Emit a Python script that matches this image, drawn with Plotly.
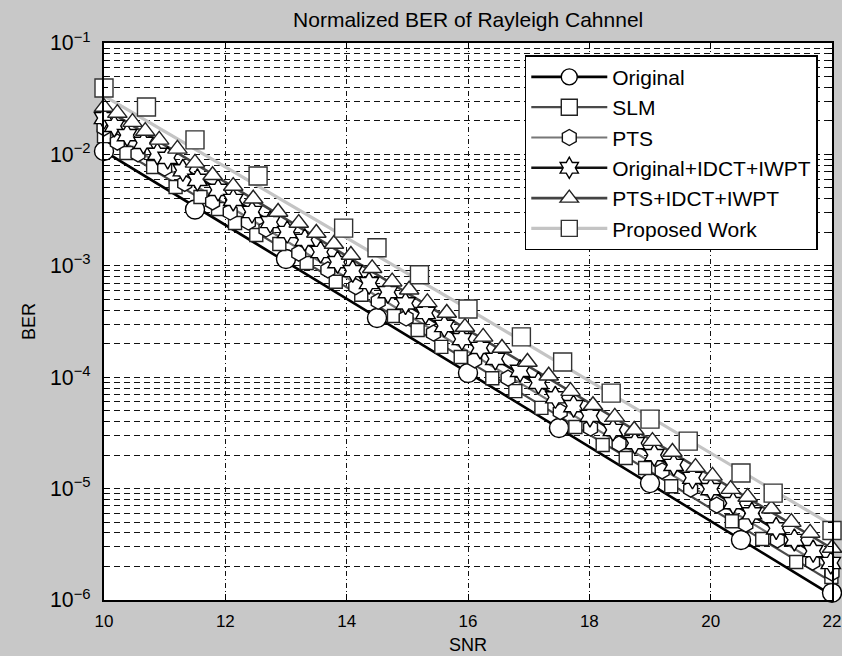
import plotly.graph_objects as go

# ---------------- data ----------------
series_names = ["Original", "SLM", "PTS", "Original+IDCT+IWPT", "PTS+IDCT+IWPT", "Proposed Work"]

# straight reference lines of each series
line_snr = [10, 16, 22]
line_original = [1.07e-2, 1.10e-4, 1.10e-6]
line_slm = [1.35e-2, 1.40e-4, 1.45e-6]
line_pts = [1.65e-2, 1.70e-4, 1.80e-6]
line_oiw = [2.05e-2, 2.05e-4, 2.10e-6]
line_piw = [2.60e-2, 2.65e-4, 2.90e-6]
line_prop = [3.35e-2, 4.10e-4, 4.70e-6]

# marker points
snr_original = [10, 11.5, 13, 14.5, 16, 17.5, 19, 20.5, 22]
ber_original = [1.07e-2, 3.2e-3, 1.15e-3, 3.4e-4, 1.09e-4, 3.5e-5, 1.12e-5, 3.46e-6, 1.16e-6]

snr_slm = [10.0, 10.37, 10.81, 11.18, 11.59, 11.88, 12.16, 12.51, 12.89, 13.34, 13.82, 14.24, 14.78, 15.17,
           15.56, 15.88, 16.40, 16.78, 17.21, 17.77, 18.22, 18.60, 18.92, 19.35, 20.35, 20.85, 21.41, 21.99]
ber_slm = [1.46e-2, 1.03e-2, 7.7e-3, 5.1e-3, 4.15e-3, 3.24e-3, 2.42e-3, 1.89e-3, 1.57e-3, 1.06e-3, 7.2e-4,
           5.5e-4, 3.54e-4, 2.65e-4, 1.87e-4, 1.52e-4, 9.8e-5, 7.5e-5, 5.3e-5, 3.57e-5, 2.46e-5, 1.88e-5,
           1.53e-5, 1.05e-5, 5.1e-6, 3.53e-6, 2.19e-6, 1.61e-6]

snr_pts = [10.0, 10.22, 10.56, 11.00, 11.33, 11.79, 12.08, 12.38, 12.67, 13.21, 13.69, 14.15, 14.52, 14.98,
           15.43, 16.11, 16.66, 17.52, 18.02, 18.49, 19.20, 19.67, 20.10, 20.58, 21.10, 21.68, 22.0]
ber_pts = [1.73e-2, 1.29e-2, 1.01e-2, 7.55e-3, 5.5e-3, 3.74e-3, 3.04e-3, 2.47e-3, 2.14e-3, 1.30e-3, 9.2e-4,
           6.5e-4, 4.8e-4, 3.4e-4, 2.49e-4, 1.43e-4, 9.8e-5, 4.9e-5, 3.5e-5, 2.52e-5, 1.44e-5, 9.9e-6,
           7.1e-6, 4.8e-6, 3.46e-6, 2.19e-6, 1.75e-6]

snr_oiw = [10.0, 10.17, 10.38, 10.65, 10.88, 11.05, 11.30, 11.54, 11.88, 12.13, 12.44, 12.74, 13.02, 13.31,
           13.57, 13.85, 14.10, 14.37, 14.68, 14.97, 15.30, 15.61, 15.90, 16.20, 16.45, 16.86, 17.16, 17.44,
           17.74, 18.01, 18.39, 18.75, 19.07, 19.39, 19.70, 20.00, 20.37, 20.68, 21.08, 21.38, 21.69, 21.98]
ber_oiw = [2.12e-2, 1.80e-2, 1.49e-2, 1.27e-2, 1.01e-2, 9.3e-3, 7.2e-3, 5.9e-3, 4.8e-3, 3.9e-3, 3.04e-3,
           2.47e-3, 2.01e-3, 1.71e-3, 1.33e-3, 1.08e-3, 8.97e-4, 7.0e-4, 5.8e-4, 4.6e-4, 3.77e-4, 2.88e-4,
           2.20e-4, 1.83e-4, 1.46e-4, 1.14e-4, 8.9e-5, 6.6e-5, 5.5e-5, 4.5e-5, 3.36e-5, 2.56e-5, 2.00e-5,
           1.63e-5, 1.25e-5, 9.9e-6, 7.4e-6, 6.0e-6, 4.4e-6, 3.46e-6, 2.75e-6, 2.15e-6]

snr_piw = [10.0, 10.22, 10.47, 10.68, 10.91, 11.21, 11.50, 11.79, 12.13, 12.46, 12.87, 13.21, 13.50, 13.79,
           14.07, 14.42, 14.75, 15.03, 15.33, 15.65, 15.95, 16.25, 16.56, 16.98, 17.33, 17.69, 18.06, 18.42,
           18.74, 19.04, 19.37, 19.75, 20.03, 20.33, 20.61, 21.00, 21.33, 21.64, 22.0]
ber_piw = [2.66e-2, 2.35e-2, 1.95e-2, 1.62e-2, 1.35e-2, 1.12e-2, 8.4e-3, 6.5e-3, 5.2e-3, 4.0e-3, 3.04e-3,
           2.42e-3, 1.97e-3, 1.57e-3, 1.25e-3, 9.5e-4, 7.2e-4, 6.1e-4, 4.7e-4, 3.77e-4, 2.82e-4, 2.30e-4,
           1.83e-4, 1.37e-4, 1.03e-4, 7.5e-5, 5.6e-5, 4.4e-5, 3.36e-5, 2.67e-5, 2.13e-5, 1.56e-5, 1.30e-5,
           9.9e-6, 8.4e-6, 6.6e-6, 5.0e-6, 4.0e-6, 2.93e-6]

snr_prop = [10.0, 10.70, 11.50, 12.54, 13.95, 14.50, 15.20, 16.00, 16.88, 17.56, 18.36, 19.00, 19.63, 20.50,
            21.03, 22.0]
ber_prop = [3.94e-2, 2.66e-2, 1.35e-2, 6.4e-3, 2.18e-3, 1.45e-3, 8.3e-4, 4.1e-4, 2.30e-4, 1.37e-4, 7.2e-5,
            4.2e-5, 2.67e-5, 1.38e-5, 9.1e-6, 4.2e-6]

x_ticks = [10, 12, 14, 16, 18, 20, 22]

# ---------------- styling ----------------
FONT = "Liberation Sans, Arial, sans-serif"
PAPER = "#c8c8c8"
line_colors = ["#000000", "#4a4a4a", "#777777", "#111111", "#444444", "#c4c4c4"]
line_widths = [2.6, 2.2, 2.2, 2.6, 2.6, 3.2]
edge_colors = ["#000000", "#222222", "#111111", "#000000", "#222222", "#333333"]
symbols = ["circle", "square", "hexagon", "hexagram", "triangle-up", "square"]
sizes = [19, 13, 16, 17, 17, 18]

lines = [line_original, line_slm, line_pts, line_oiw, line_piw, line_prop]
pts = [(snr_original, ber_original), (snr_slm, ber_slm), (snr_pts, ber_pts),
       (snr_oiw, ber_oiw), (snr_piw, ber_piw), (snr_prop, ber_prop)]

fig = go.Figure()

# lines
for i, ly in enumerate(lines):
    fig.add_trace(go.Scatter(x=line_snr, y=ly, mode="lines", showlegend=False, hoverinfo="skip",
                             line=dict(color=line_colors[i], width=line_widths[i])))

# markers
for i, (sx, sy) in enumerate(pts):
    fig.add_trace(go.Scatter(x=sx, y=sy, mode="markers", showlegend=False, cliponaxis=False,
                             marker=dict(symbol=symbols[i], size=sizes[i], color="white",
                                         line=dict(color=edge_colors[i], width=1.4))))

# legend entries
for i, name in enumerate(series_names):
    fig.add_trace(go.Scatter(x=[None], y=[None], mode="lines+markers", name=name,
                             line=dict(color=line_colors[i], width=line_widths[i]),
                             marker=dict(symbol=symbols[i], size=16, color="white",
                                         line=dict(color=edge_colors[i], width=1.4))))

axis_common = dict(showline=True, linecolor="black", linewidth=2, mirror="allticks",
                   ticks="inside", tickcolor="black", zeroline=False, automargin=False,
                   tickfont=dict(family=FONT, size=17, color="black"),
                   showgrid=True, gridcolor="#111111", gridwidth=1.2)

fig.update_layout(
    width=842, height=656,
    paper_bgcolor=PAPER, plot_bgcolor="white",
    margin=dict(l=104, r=10, t=43, b=56),
    title=dict(text="Normalized BER of Rayleigh Cahnnel", x=0.556, xanchor="center", y=0.97,
               yanchor="middle", font=dict(family=FONT, size=21, color="black"), automargin=False),
    xaxis=dict(range=[10, 22], tickvals=x_ticks, griddash="5px,3px,1px,3px", ticklen=6,
               ticklabeloverflow="allow", ticklabelstandoff=5,
               title=dict(text="SNR", font=dict(family=FONT, size=18, color="black"), standoff=8),
               **axis_common),
    yaxis=dict(type="log", range=[-6, -1], dtick=1, exponentformat="power", showexponent="all",
               griddash="6px,4px", ticklen=6, ticklabelstandoff=8,
               minor=dict(dtick="D1", showgrid=True, gridcolor="#111111", griddash="6px,4px",
                          gridwidth=1.2, ticks="inside", ticklen=4, tickcolor="black"),
               title=dict(text="BER", font=dict(family=FONT, size=18, color="black"), standoff=10),
               **axis_common),
    legend=dict(x=0.578, y=0.978, xanchor="left", yanchor="top", bgcolor="white",
                bordercolor="black", borderwidth=1.5, itemwidth=76,
                font=dict(family=FONT, size=21, color="black"), tracegroupgap=0),
)

fig.write_html(
    "out.html",
    config={"displayModeBar": False},
    post_script="document.body.style.margin='0';document.body.style.overflow='hidden';"
                "document.body.style.background='" + PAPER + "';",
)
